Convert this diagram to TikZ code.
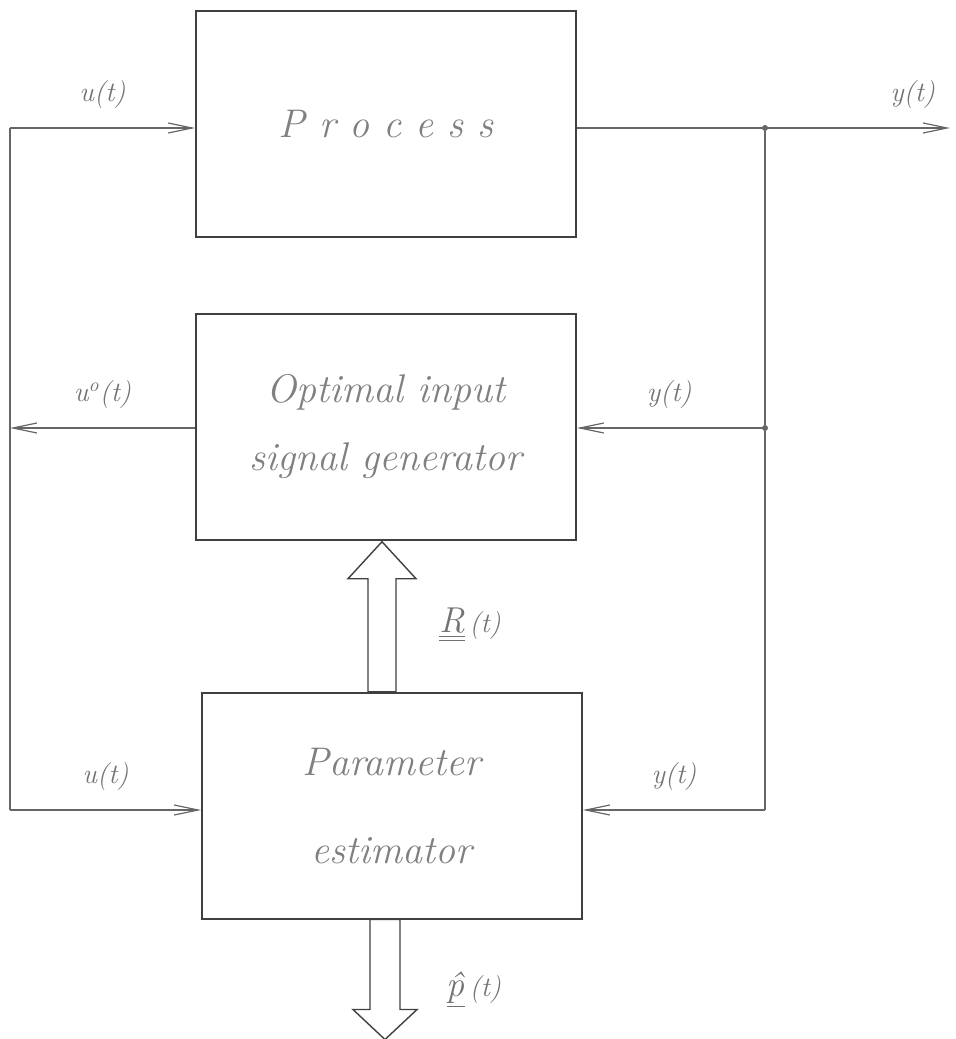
\documentclass[tikz,border=0pt]{standalone}
\usepackage{fontspec}
\usepackage{tikz}
\usetikzlibrary{arrows.meta,calc,positioning}

\begin{document}
\begin{tikzpicture}[
    x=0.5pt, y=-0.5pt,
    >={Straight Barb[length=12pt,width=5pt]},
    blk/.style={draw=black!75, rectangle, line width=0.9pt, align=center,
        minimum height=113pt, minimum width=190pt,
        font=\fontsize{20}{38}\selectfont\itshape, text=black!50},
    lab/.style={font=\fontsize{14}{16}\selectfont\itshape, text=black!55},
    line/.style={->, draw=black!60, line width=0.6pt},
    wire/.style={draw=black!60, line width=0.6pt},
    fat/.style={draw=black!75, line width=0.7pt, fill=white},
    jdot/.style={circle, fill=black!60, inner sep=0pt, minimum size=3pt}
]
\useasboundingbox (0,0) rectangle (955,1039);
\node[blk] (proc) at (386,124) {P r o c e s s};
\node[blk, below=37.5pt of proc] (oig) {\raisebox{-4pt}{Optimal input}\\ signal generator};
\node[blk, below=75.5pt of oig, xshift=3pt] (est) {Parameter\\[6pt] estimator};
\coordinate (ltop) at (10,128);
\coordinate (lmid) at (10,428);
\coordinate (lbot) at (10,810);
\node[jdot] (jtop) at (765,128) {};
\node[jdot] (jmid) at (765,428) {};
\coordinate (rbot) at (765,810);
\coordinate (yout) at (950,128);

\draw[wire] (ltop) -- (lbot);
\draw[line] (ltop) -- node[lab, above=6pt] {u(t)} (ltop -| proc.west);
\draw[line] (lmid -| oig.west) -- node[lab, above=6pt] {u\textsuperscript{o}(t)} (lmid);
\draw[line] (lbot) -- node[lab, above=6pt] {u(t)} (lbot -| est.west);
\draw[line] (ltop -| proc.east) -- node[lab, above=6pt, pos=0.9] {y(t)} (yout);
\draw[wire] (jtop) -- (jmid) -- (rbot);
\draw[line] (jmid) -- node[lab, above=6pt] {y(t)} (jmid -| oig.east);
\draw[line] (rbot) -- node[lab, above=6pt] {y(t)} (rbot -| est.east);

\draw[fat] ([xshift=-12pt]est.north) -- ++(0,-113) -- ++(-20,0) -- ++(34,-37)
    -- ++(34,37) -- ++(-20,0) -- ++(0,113) -- cycle;
\draw[fat] ([xshift=-11pt]est.south) -- ++(0,90) -- ++(-17,0) -- ++(32,30)
    -- ++(32,-30) -- ++(-17,0) -- ++(0,-90) -- cycle;
\node[lab] (rlab) at (470,625) {{\fontsize{18}{20}\selectfont\underline{\underline{R}}}\,(t)};
\node[lab] (plab) at (474,990) {{\fontsize{18}{20}\selectfont\underline{\^{p}}}\,(t)};
\end{tikzpicture}
\end{document}
